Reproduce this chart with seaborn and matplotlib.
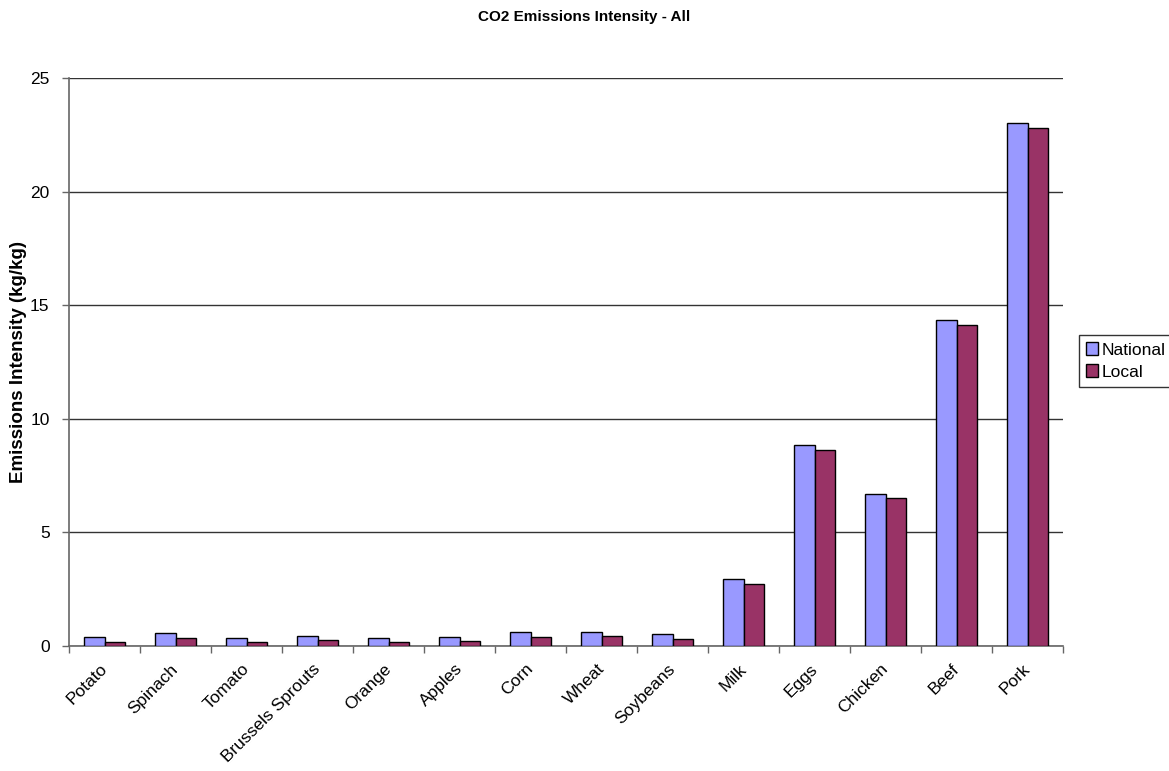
import pandas as pd
import matplotlib
matplotlib.use("Agg")
import matplotlib.pyplot as plt
import matplotlib.transforms as mtransforms
import seaborn as sns

# Data
foods = ["Potato", "Spinach", "Tomato", "Brussels Sprouts", "Orange", "Apples",
         "Corn", "Wheat", "Soybeans", "Milk", "Eggs", "Chicken", "Beef", "Pork"]
national = [0.38, 0.56, 0.35, 0.44, 0.35, 0.41, 0.61, 0.63, 0.51,
            2.94, 8.85, 6.70, 14.33, 23.0]
local = [0.19, 0.35, 0.17, 0.25, 0.16, 0.22, 0.41, 0.42, 0.31,
         2.75, 8.64, 6.50, 14.13, 22.8]
series = ["National", "Local"]
colors = ["#9999FF", "#993366"]
yticks = [0, 5, 10, 15, 20, 25]

data = pd.DataFrame({
    "Food": foods * 2,
    "Intensity": national + local,
    "Series": ["National"] * len(foods) + ["Local"] * len(foods),
})

sns.set_style("white")
plt.rcParams["font.family"] = ["Liberation Sans", "DejaVu Sans"]
plt.rcParams["text.color"] = "black"
plt.rcParams["xtick.color"] = "black"
plt.rcParams["ytick.color"] = "black"

fig = plt.figure(figsize=(11.69, 7.71), dpi=100)
ax = fig.add_axes([69 / 1169, 1 - 646 / 771, (1063 - 69) / 1169, (646 - 78) / 771])

sns.barplot(data=data, x="Food", y="Intensity", hue="Series", hue_order=series,
            palette=colors, width=0.59, edgecolor="black", linewidth=1,
            saturation=1, ax=ax, legend=True, zorder=3)

ax.set_xlim(-0.5, len(foods) - 0.5)
ax.set_ylim(0, 25)
ax.set_yticks(yticks)
ax.yaxis.grid(True, color="#333333", linewidth=1)
ax.set_axisbelow(True)

for s in ["top", "right"]:
    ax.spines[s].set_visible(False)
for s in ["left", "bottom"]:
    ax.spines[s].set_color("#666666")
    ax.spines[s].set_linewidth(1.2)

ax.set_xlabel("")
ax.set_ylabel("")
ax.tick_params(axis="y", direction="out", length=5, width=1, color="#666666",
               labelsize=12.5, pad=9, left=True, labelcolor="black")
ax.tick_params(axis="x", which="major", length=0, labelsize=12.5, pad=11,
               labelcolor="black")
ax.set_xticks([i - 0.5 for i in range(len(foods) + 1)], minor=True)
ax.tick_params(axis="x", which="minor", direction="out", length=5, width=1,
               color="#666666", bottom=True)
shift = mtransforms.ScaledTranslation(-5 / 100, 0, fig.dpi_scale_trans)
for lbl in ax.get_xticklabels():
    lbl.set_rotation(45)
    lbl.set_ha("right")
    lbl.set_rotation_mode("anchor")
    lbl.set_transform(lbl.get_transform() + shift)

fig.text(0.5, 1 - 17 / 771, "CO2 Emissions Intensity - All", ha="center",
         va="center", fontsize=11, fontweight="bold")
fig.text(18.5 / 1169, 1 - 362 / 771, "Emissions Intensity (kg/kg)", rotation=90,
         ha="center", va="center", fontsize=13.5, fontweight="bold")

leg = ax.legend(loc="center left", bbox_to_anchor=(1079 / 1169, 1 - 361 / 771),
                bbox_transform=fig.transFigure, frameon=True, fancybox=False,
                edgecolor="black", fontsize=12.5, handlelength=0.7,
                handleheight=0.7, handletextpad=0.2, borderpad=0.4,
                labelspacing=0.4, borderaxespad=0)
leg.get_frame().set_linewidth(1)

fig.savefig("out.png", dpi=100)
